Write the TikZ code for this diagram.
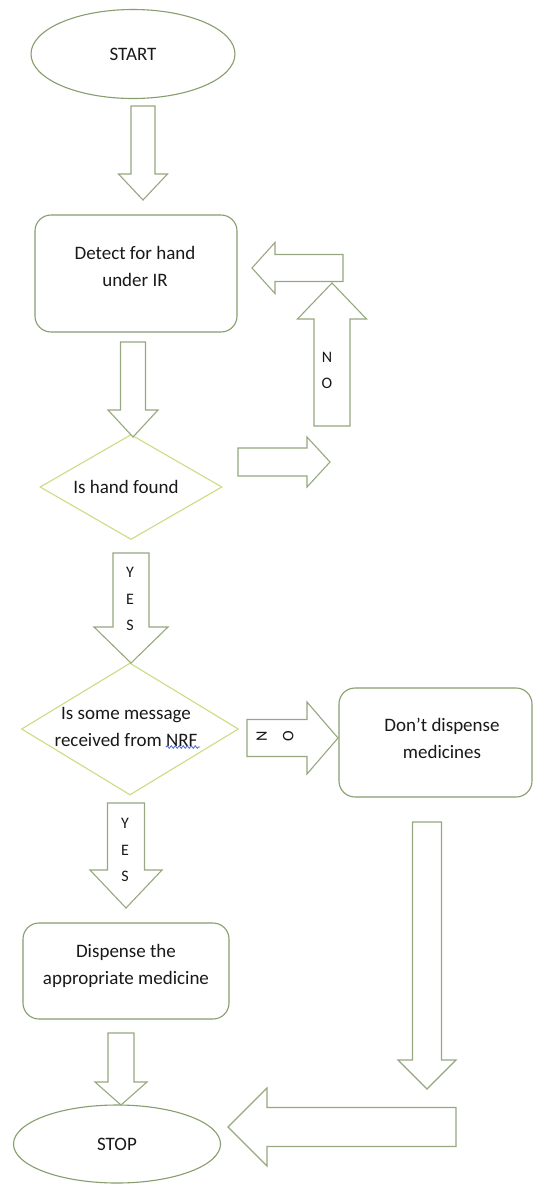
\documentclass[tikz,border=0pt]{standalone}
\usepackage{fontspec}
\setmainfont{Carlito}
\usetikzlibrary{shapes.geometric,calc,decorations.pathmorphing}
\definecolor{boxc}{RGB}{135,158,110}
\definecolor{diac}{RGB}{205,220,130}
\definecolor{arrc}{RGB}{150,168,128}
\definecolor{txtc}{RGB}{25,25,25}
\definecolor{squig}{RGB}{80,100,200}
% #1 tail coordinate, #2 tip coordinate, #3 shaft half width, #4 head half width, #5 head length
\newcommand\blockarr[5]{%
  \coordinate (#1hb) at ($(#2)!#5!(#1)$);
  \draw[barrow] ($(#1)!#3!90:(#2)$) -- ($(#1hb)!#3!90:(#2)$) -- ($(#1hb)!#4!90:(#2)$) -- (#2)
    -- ($(#1hb)!#4!-90:(#2)$) -- ($(#1hb)!#3!-90:(#2)$) -- ($(#1)!#3!-90:(#2)$) -- cycle;}
\begin{document}
\begin{tikzpicture}[x=1pt,y=-1pt,
  every node/.style={text=txtc, font=\fontsize{19}{27}\selectfont, inner sep=0pt},
  term/.style={ellipse, draw=boxc, line width=1.1pt},
  procbox/.style={rectangle, rounded corners=16pt, draw=boxc, line width=1.1pt},
  decis/.style={diamond, draw=diac, line width=1.1pt},
  lbl/.style={align=center},
  arrlbl/.style={align=center, font=\fontsize{16}{26.5}\selectfont},
  barrow/.style={draw=arrc, line width=1.1pt, fill=white, line join=miter}]
\fill[white] (0,0) rectangle (534,1187);
\useasboundingbox (0,0) rectangle (534,1187);

% nodes
\node[term, minimum width=204pt, minimum height=89pt] (start) at (133,54) {START};
\node[procbox, minimum width=202pt, minimum height=117pt] (detect) at (136,273.5) {};
\node[lbl] (detectt) at (135,266) {Detect for hand\\under IR};
\node[decis, minimum width=182pt, minimum height=105pt] (d1) at (131,487) {};
\node[lbl] (d1t) at (126,487) {Is hand found};
\node[decis, minimum width=217pt, minimum height=132pt] (d2) at (130,729) {};
\node[lbl] (d2t) at (126,727) {Is some message\\received from NRF};
\node[procbox, minimum width=193pt, minimum height=109pt] (dont) at (435.5,742.5) {};
\node[lbl] (dontt) at (442,738.5) {Don’t dispense\\medicines};
\node[procbox, minimum width=206pt, minimum height=96pt] (disp) at (126,971) {};
\node[lbl] (dispt) at (126,965.5) {Dispense the\\appropriate medicine};
\node[term, minimum width=207pt, minimum height=78pt] (stop) at (117,1144) {STOP};

% spell-check squiggle under NRF
\draw[squig, line width=0.8pt, decorate, decoration={snake, amplitude=1.3pt, segment length=4pt}] (166,747) -- (200,747);

% arrow end points
\coordinate (a1t) at (143,106);  \coordinate (a1p) at (143,200);
\coordinate (a2t) at (133,342);  \coordinate (a2p) at (133,437);
\coordinate (a3t) at (238,462);  \coordinate (a3p) at (330,462);
\coordinate (a4t) at (332,426);  \coordinate (a4p) at (332,283);
\coordinate (a5t) at (343,268);  \coordinate (a5p) at (252,268);
\coordinate (a6t) at (131,553);  \coordinate (a6p) at (131,663);
\coordinate (a7t) at (247,738);  \coordinate (a7p) at (338,738);
\coordinate (a8t) at (427,822);  \coordinate (a8p) at (427,1089);
\coordinate (a9t) at (456,1127); \coordinate (a9p) at (228,1127);
\coordinate (a10t) at (126,803); \coordinate (a10p) at (126,908);
\coordinate (a11t) at (121,1033);\coordinate (a11p) at (121,1105);

\blockarr{a1t}{a1p}{12pt}{24.5pt}{26pt}
\blockarr{a2t}{a2p}{12.5pt}{25pt}{27pt}
\blockarr{a3t}{a3p}{14pt}{25pt}{23pt}
\blockarr{a4t}{a4p}{18pt}{34.5pt}{36pt}
\blockarr{a5t}{a5p}{13.5pt}{25.5pt}{23pt}
\blockarr{a6t}{a6p}{18pt}{37pt}{36pt}
\blockarr{a7t}{a7p}{18.5pt}{36pt}{31pt}
\blockarr{a8t}{a8p}{14.5pt}{29pt}{29pt}
\blockarr{a9t}{a9p}{19.5pt}{39pt}{39pt}
\blockarr{a10t}{a10p}{18.5pt}{36pt}{38pt}
\blockarr{a11t}{a11p}{13pt}{26pt}{23pt}

% arrow labels
\node[arrlbl] (no1) at (327,370.5) {N\\O};
\node[arrlbl] (yes1) at (130,599) {Y\\E\\S};
\node[arrlbl, rotate=90] (no2) at (275,736) {N\\O};
\node[arrlbl] (yes2) at (125,850) {Y\\E\\S};
\end{tikzpicture}
\end{document}
